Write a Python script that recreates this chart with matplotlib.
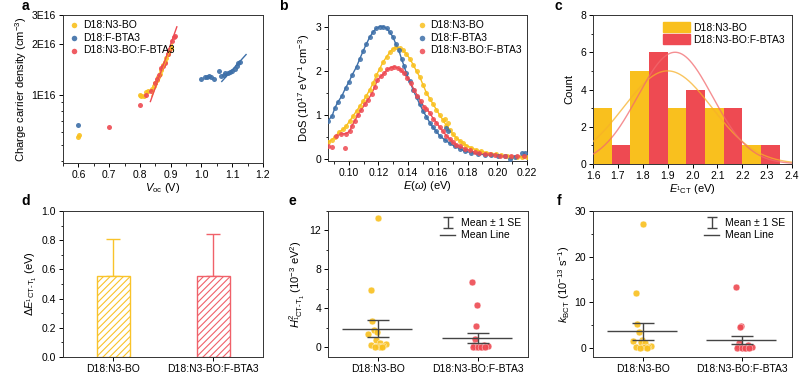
import numpy as np
import matplotlib
matplotlib.use("Agg")
import matplotlib.pyplot as plt
from matplotlib.ticker import FixedLocator, FixedFormatter, MultipleLocator, LogLocator, NullFormatter
from matplotlib.lines import Line2D
from matplotlib.patches import Patch

plt.rcParams['font.family'] = ['Liberation Sans', 'DejaVu Sans']
plt.rcParams['mathtext.fontset'] = 'custom'
plt.rcParams['mathtext.rm'] = 'Liberation Sans'
plt.rcParams['mathtext.it'] = 'Liberation Sans:italic'
plt.rcParams['hatch.linewidth'] = 0.8

YEL = '#F9C01E'
BLU = '#3D6FA8'
RED = '#EE4A52'
GRAY = '#444444'

# ---------------- data ----------------
series_names = ['D18:N3-BO', 'D18:F-BTA3', 'D18:N3-BO:F-BTA3']
group_labels = ['D18:N3-BO', 'D18:N3-BO:F-BTA3']

# panel a: Voc (V) vs charge carrier density (1E16 cm^-3)
a_yel_V = [0.600, 0.601, 0.800, 0.805, 0.812, 0.820, 0.826, 0.840, 0.845, 0.850, 0.855, 0.860, 0.865, 0.870, 0.876, 0.880, 0.885, 0.890, 0.895, 0.900]
a_yel_n = [0.56, 0.575, 0.99, 0.98, 0.98, 1.04, 1.05, 1.08, 1.12, 1.17, 1.22, 1.28, 1.33, 1.40, 1.50, 1.58, 1.65, 1.75, 1.82, 1.90]
a_blu_V = [0.600, 1.000, 1.010, 1.018, 1.025, 1.030, 1.040, 1.058, 1.065, 1.072, 1.078, 1.085, 1.092, 1.100, 1.108, 1.115, 1.120, 1.125]
a_blu_n = [0.66, 1.24, 1.27, 1.28, 1.29, 1.28, 1.24, 1.38, 1.30, 1.31, 1.34, 1.35, 1.36, 1.38, 1.42, 1.48, 1.55, 1.58]
a_red_V = [0.700, 0.800, 0.820, 0.835, 0.850, 0.855, 0.862, 0.868, 0.875, 0.882, 0.890, 0.895, 0.905, 0.910, 0.915]
a_red_n = [0.645, 0.87, 1.00, 1.05, 1.18, 1.25, 1.32, 1.45, 1.48, 1.55, 1.75, 1.85, 2.10, 2.20, 2.25]
# linear fits in log10(n) vs V: slope (dec/V), value at start, V range
a_fit_slope = [4.7, 2.04, 5.2]
a_fit_start_n = [0.98, 1.20, 0.91]
a_fit_V0 = [0.839, 1.066, 0.834]
a_fit_V1 = [0.905, 1.145, 0.920]
a_ytick_vals = [1e16, 2e16, 3e16]
a_ytick_labels = ['1E16', '2E16', '3E16']

# panel b: DoS
b_yel_E = [0.086, 0.0884, 0.0906, 0.0933, 0.0962, 0.0984, 0.1007, 0.1029, 0.1052, 0.1074, 0.1096, 0.1119, 0.1141, 0.1164, 0.1186, 0.1209, 0.1231, 0.1254, 0.1276, 0.1298, 0.1321, 0.1343, 0.1366, 0.1388, 0.1411, 0.1433, 0.1456, 0.1478, 0.150, 0.1523, 0.1545, 0.1567, 0.159, 0.1612, 0.1635, 0.1657, 0.168, 0.1702, 0.1725, 0.1747, 0.177, 0.1792, 0.1826, 0.1859, 0.1893, 0.1927, 0.196, 0.1994, 0.2028, 0.2062, 0.2095, 0.213, 0.2165, 0.22]
b_yel_D = [0.38, 0.44, 0.50, 0.61, 0.68, 0.76, 0.87, 0.98, 1.09, 1.20, 1.31, 1.44, 1.57, 1.72, 1.90, 2.05, 2.20, 2.31, 2.42, 2.50, 2.53, 2.51, 2.46, 2.38, 2.27, 2.14, 1.99, 1.86, 1.68, 1.50, 1.37, 1.25, 1.12, 1.00, 0.88, 0.76, 0.66, 0.56, 0.48, 0.42, 0.36, 0.31, 0.26, 0.21, 0.18, 0.15, 0.12, 0.11, 0.09, 0.07, 0.06, 0.05, 0.05, 0.05]
b_yel_out_E = [0.165, 0.1668]
b_yel_out_D = [0.92, 0.83]
b_blu_E = [0.086, 0.0888, 0.0906, 0.0928, 0.0955, 0.0978, 0.100, 0.1022, 0.1052, 0.1074, 0.1096, 0.1119, 0.1141, 0.1164, 0.1186, 0.1209, 0.1231, 0.1254, 0.1276, 0.1298, 0.1316, 0.1337, 0.1355, 0.1372, 0.1388, 0.1411, 0.1433, 0.1456, 0.1478, 0.150, 0.1523, 0.1545, 0.1567, 0.159, 0.1612, 0.1646, 0.168, 0.1713, 0.1747, 0.178, 0.1825, 0.187, 0.1915, 0.196, 0.2003, 0.205]
b_blu_D = [0.87, 0.98, 1.16, 1.30, 1.44, 1.61, 1.74, 1.90, 2.09, 2.27, 2.44, 2.61, 2.76, 2.88, 2.96, 3.0, 3.0, 2.96, 2.87, 2.76, 2.61, 2.46, 2.27, 2.11, 1.94, 1.76, 1.57, 1.40, 1.24, 1.09, 0.96, 0.83, 0.72, 0.63, 0.53, 0.44, 0.36, 0.29, 0.24, 0.18, 0.15, 0.12, 0.10, 0.09, 0.08, 0.07]
b_blu_out_E = [0.1657, 0.1668, 0.2083, 0.212, 0.2163, 0.2185]
b_blu_out_D = [0.70, 0.64, 0.01, 0.05, 0.14, 0.15]
b_red_E = [0.0917, 0.0946, 0.0984, 0.1007, 0.1022, 0.104, 0.1063, 0.1085, 0.1108, 0.113, 0.1153, 0.1175, 0.1193, 0.1215, 0.1238, 0.126, 0.1283, 0.1305, 0.1328, 0.135, 0.1372, 0.1395, 0.1417, 0.144, 0.1462, 0.1485, 0.1507, 0.1523, 0.1545, 0.1568, 0.159, 0.1612, 0.1635, 0.1657, 0.168, 0.1702, 0.1725, 0.1747, 0.178, 0.1814, 0.1848, 0.188, 0.1915, 0.195, 0.1983, 0.2017, 0.205, 0.209, 0.213, 0.218]
b_red_D = [0.53, 0.57, 0.58, 0.64, 0.76, 0.87, 1.01, 1.12, 1.24, 1.35, 1.47, 1.64, 1.79, 1.87, 1.94, 2.03, 2.07, 2.09, 2.07, 2.01, 1.94, 1.83, 1.72, 1.57, 1.44, 1.31, 1.18, 1.14, 1.05, 0.92, 0.83, 0.72, 0.63, 0.53, 0.46, 0.38, 0.33, 0.29, 0.24, 0.20, 0.16, 0.14, 0.12, 0.11, 0.10, 0.08, 0.07, 0.07, 0.07, 0.07]
b_red_out_E = [0.086, 0.0884, 0.0973]
b_red_out_D = [0.29, 0.27, 0.26]

# panel c: histogram of E_1CT
c_bin_width = 0.075
c_yel_left = [1.600, 1.750, 1.900, 2.050, 2.200]
c_yel_count = [3, 5, 3, 3, 1]
c_red_left = [1.675, 1.825, 1.975, 2.125, 2.275]
c_red_count = [1, 6, 4, 3, 1]
# gaussian fits: amplitude, centre, sigma
c_fit_yel = [5.0, 1.90, 0.178]
c_fit_red = [6.0, 1.93, 0.150]

# panel d
d_values = [0.555, 0.555]
d_err = [0.255, 0.29]

# panel e: H^2 (1e-3 eV^2)
e_yel = [13.3, 5.9, 2.7, 1.8, 1.6, 1.4, 0.7, 0.4, 0.35, 0.25, 0.15, 0.1, 0.05, 0.0, 0.0]
e_red = [6.7, 4.3, 2.15, 0.8, 0.25, 0.2, 0.15, 0.1, 0.1, 0.05, 0.05, 0.0, 0.0, 0.0, 0.0]
# panel f: k_BCT (1e13 s^-1)
f_yel = [27.1, 12.0, 5.2, 3.4, 1.7, 1.4, 1.2, 1.0, 0.5, 0.3, 0.2, 0.15, 0.1, 0.05, 0.0]
f_red = [13.4, 4.8, 4.5, 1.1, 0.6, 0.4, 0.3, 0.2, 0.1, 0.1, 0.05, 0.0, 0.0, 0.0, 0.0]
# horizontal jitter of points (style)
jit_yel = [0.00, -0.07, -0.06, -0.04, -0.01, -0.10, -0.02, 0.02, 0.08, -0.07, 0.00, 0.05, 0.02, 0.04, -0.03]
jit_red = [-0.06, -0.01, -0.02, -0.03, 0.06, -0.04, 0.02, 0.08, 0.10, -0.02, 0.04, -0.05, 0.00, 0.03, 0.07]

# ---------------- figure ----------------
fig = plt.figure(figsize=(8.0, 3.78), dpi=100)
W, H = 800.0, 378.0
def ax_at(l, r, t, b):
    return fig.add_axes([l / W, 1 - b / H, (r - l) / W, (b - t) / H])

axa = ax_at(63, 263, 15, 163)
axb = ax_at(328, 527, 15, 161)
axc = ax_at(593, 792, 15, 164)
axd = ax_at(63, 263, 211, 357)
axe = ax_at(328, 528, 211, 357)
axf = ax_at(593, 792, 211, 357)

TFS = 7.5
LFS = 8
for ax in [axa, axb, axc, axd, axe, axf]:
    ax.tick_params(direction='out', length=3, width=0.7, labelsize=TFS, pad=2, top=False, right=False)
    ax.tick_params(which='minor', direction='out', length=1.8, width=0.6)
    for s in ax.spines.values():
        s.set_linewidth(0.7)
        s.set_color('#333333')

# panel a
cols = [YEL, BLU, RED]
a_V = [a_yel_V, a_blu_V, a_red_V]
a_n = [a_yel_n, a_blu_n, a_red_n]
for i in range(3):
    axa.scatter(np.array(a_V[i]), np.array(a_n[i]) * 1e16, s=13, color=cols[i], alpha=0.9,
                linewidths=0, label=series_names[i], zorder=3)
for i in range(3):
    v = np.linspace(a_fit_V0[i], a_fit_V1[i], 20)
    n = a_fit_start_n[i] * 1e16 * 10 ** (a_fit_slope[i] * (v - a_fit_V0[i]))
    axa.plot(v, n, color=cols[i], lw=1.0, zorder=4)
axa.set_yscale('log')
axa.set_ylim(3.9e15, 3.0e16)
axa.set_xlim(0.55, 1.2)
axa.yaxis.set_major_locator(FixedLocator(a_ytick_vals))
axa.yaxis.set_major_formatter(FixedFormatter(a_ytick_labels))
axa.yaxis.set_minor_locator(LogLocator(base=10, subs=np.arange(2, 10)))
axa.yaxis.set_minor_formatter(NullFormatter())
axa.xaxis.set_major_locator(MultipleLocator(0.1))
axa.xaxis.set_minor_locator(MultipleLocator(0.05))
axa.set_xlabel(r'$V_{\mathrm{oc}}$ (V)', fontsize=LFS, labelpad=1)
axa.set_ylabel(r'Charge carrier density (cm$^{-3}$)', fontsize=LFS, labelpad=2)
axa.legend(loc='upper left', frameon=False, fontsize=7.5, handletextpad=0.2, borderaxespad=0.2,
           labelspacing=0.25, markerscale=1.1, handlelength=1.2, borderpad=0.3)

# panel b
b_main = [(b_yel_E, b_yel_D), (b_blu_E, b_blu_D), (b_red_E, b_red_D)]
b_out = [(b_yel_out_E, b_yel_out_D), (b_blu_out_E, b_blu_out_D), (b_red_out_E, b_red_out_D)]
for i in range(3):
    E, D = b_main[i]
    axb.plot(E, D, color=cols[i], lw=1.0, zorder=2)
for i in range(3):
    E, D = b_main[i]
    Eo, Do = b_out[i]
    axb.scatter(list(E) + list(Eo), list(D) + list(Do), s=13, color=cols[i], alpha=0.85,
                linewidths=0, label=series_names[i], zorder=3)
axb.set_xlim(0.086, 0.22)
axb.set_ylim(-0.04, 3.26)
axb.xaxis.set_major_locator(MultipleLocator(0.02))
axb.xaxis.set_minor_locator(MultipleLocator(0.01))
axb.yaxis.set_major_locator(MultipleLocator(1))
axb.yaxis.set_minor_locator(MultipleLocator(0.5))
axb.set_xlabel(r'$E$($\omega$) (eV)', fontsize=LFS, labelpad=1)
axb.set_ylabel(r'DoS (10$^{17}$ eV$^{-1}$ cm$^{-3}$)', fontsize=LFS, labelpad=2)
axb.legend(loc='upper right', frameon=False, fontsize=7.5, handletextpad=0.2, borderaxespad=0.2,
           labelspacing=0.25, markerscale=1.1, handlelength=1.2, borderpad=0.3)

# panel c
axc.bar(c_yel_left, c_yel_count, width=c_bin_width, align='edge', color=YEL, edgecolor='none', zorder=2)
axc.bar(c_red_left, c_red_count, width=c_bin_width, align='edge', color=RED, edgecolor='none', zorder=2)
xg = np.linspace(1.6, 2.4, 200)
for p, col in [(c_fit_yel, '#F7B12A'), (c_fit_red, '#F26A6E')]:
    axc.plot(xg, p[0] * np.exp(-(xg - p[1]) ** 2 / (2 * p[2] ** 2)), color=col, lw=1.0, alpha=0.75, zorder=3)
axc.set_xlim(1.6, 2.4)
axc.set_ylim(0, 8)
axc.xaxis.set_major_locator(MultipleLocator(0.1))
axc.yaxis.set_major_locator(MultipleLocator(2))
axc.yaxis.set_minor_locator(MultipleLocator(1))
axc.set_xlabel(r'$E_{^1\mathrm{CT}}$ (eV)', fontsize=LFS, labelpad=1)
axc.set_ylabel('Count', fontsize=LFS, labelpad=4)
axc.legend(handles=[Patch(color=YEL, label=group_labels[0]), Patch(color=RED, label=group_labels[1])],
           loc='upper right', frameon=False, fontsize=7.5, handlelength=2.6, handleheight=1.1,
           handletextpad=0.3, borderaxespad=0.3, labelspacing=0.15)

# panel d
xpos = np.arange(1, len(group_labels) + 1)
dcols = ['#F9C32A', '#F0616A']
for i in range(2):
    axd.bar(xpos[i], d_values[i], width=0.33, facecolor='white', edgecolor=dcols[i],
            hatch='/////', linewidth=1.0, zorder=2)
    axd.errorbar(xpos[i], d_values[i], yerr=[[0], [d_err[i]]], color=dcols[i], capsize=5,
                 elinewidth=1.0, capthick=1.0, zorder=1)
axd.set_xlim(0.5, 2.5)
axd.set_ylim(0, 1.0)
axd.set_xticks(xpos)
axd.set_xticklabels(group_labels)
axd.yaxis.set_major_locator(MultipleLocator(0.2))
axd.yaxis.set_minor_locator(MultipleLocator(0.1))
axd.set_ylabel(r'$\Delta E_{^1\mathrm{CT}\text{-}\mathrm{T}_1}$ (eV)', fontsize=LFS, labelpad=2)

# panels e, f
def dotplot(ax, yv, rv, ylim, major, minor, ylabel):
    for i, (vals, jit, col) in enumerate([(yv, jit_yel, YEL), (rv, jit_red, RED)]):
        vals = np.array(vals)
        x = xpos[i] + np.array(jit)
        ax.scatter(x, vals, s=24, color=col, alpha=0.9, linewidths=0.3, edgecolors='white', zorder=3)
        m = vals.mean()
        se = vals.std(ddof=1) / np.sqrt(len(vals))
        ax.hlines(m, xpos[i] - 0.36, xpos[i] + 0.34, color=GRAY, lw=1.0, zorder=4)
        ax.errorbar(xpos[i], m, yerr=se, color=GRAY, capsize=8, elinewidth=1.0, capthick=1.0, zorder=4)
    ax.set_xlim(0.5, 2.5)
    ax.set_ylim(*ylim)
    ax.set_xticks(xpos)
    ax.set_xticklabels(group_labels)
    ax.yaxis.set_major_locator(MultipleLocator(major))
    ax.yaxis.set_minor_locator(MultipleLocator(minor))
    ax.set_ylabel(ylabel, fontsize=LFS, labelpad=2)
    eb = ax.errorbar([np.nan], [np.nan], yerr=[1.0], color=GRAY, capsize=3.5, elinewidth=1.0,
                     capthick=1.0, linestyle='none')
    h2 = Line2D([], [], color=GRAY, lw=1.0)
    ax.legend([eb, h2], ['Mean \u00b1 1 SE', 'Mean Line'], loc='upper right', frameon=False,
              fontsize=7.5, handlelength=1.5, handletextpad=0.5, borderaxespad=0.3, labelspacing=0.2)

dotplot(axe, e_yel, e_red, (-1, 14), 4, 2, r'$H^2_{^1\mathrm{CT}\text{-}\mathrm{T}_1}$ (10$^{-3}$ eV$^2$)')
dotplot(axf, f_yel, f_red, (-2, 30), 10, 5, r'$k_{\mathrm{BCT}}$ (10$^{-13}$ s$^{-1}$)')

# panel letters
for txt, x, y in [('a', 25, 6), ('b', 283, 6), ('c', 558, 6), ('d', 26, 201), ('e', 292, 201), ('f', 559, 201)]:
    fig.text(x / W, 1 - y / H, txt, fontsize=10, fontweight='bold', ha='center', va='center')

fig.savefig('out.png', dpi=100)
